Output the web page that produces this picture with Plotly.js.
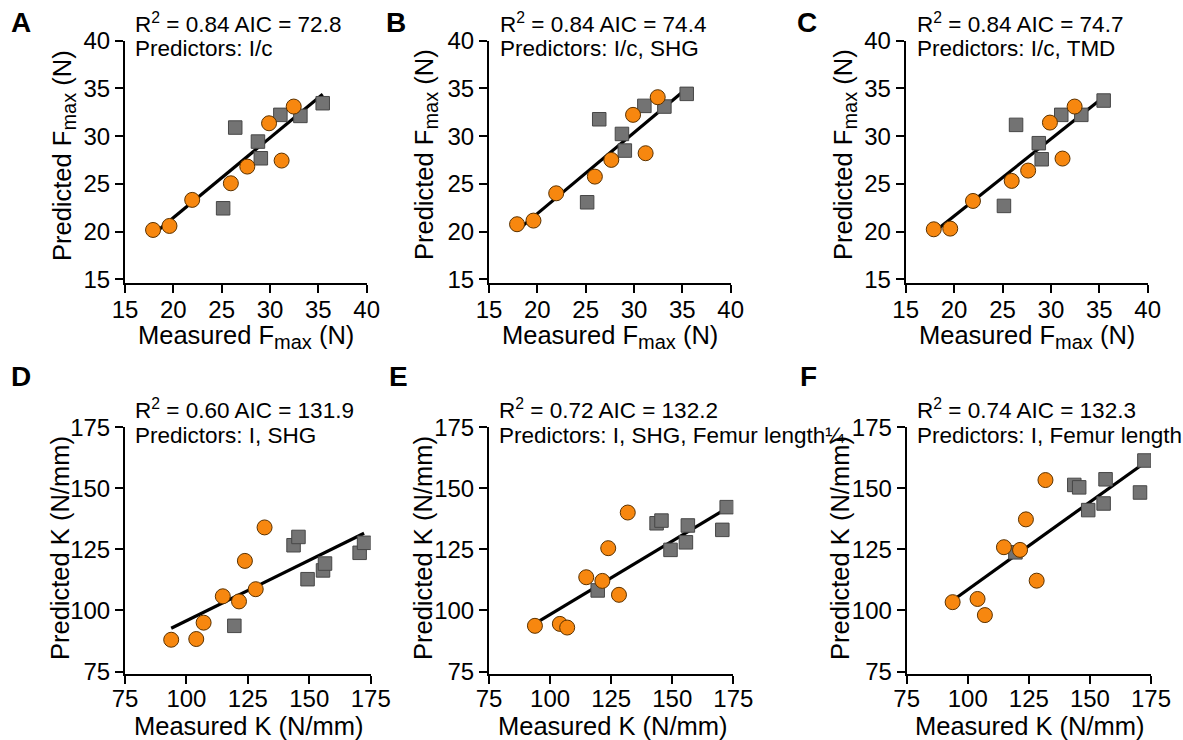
<!DOCTYPE html>
<html>
<head>
<meta charset="utf-8">
<script src="https://cdn.plot.ly/plotly-3.0.1.min.js"></script>
<style>html,body{margin:0;padding:0;background:#fff;}#chart{width:1183px;height:740px;}</style>
</head>
<body>
<div id="chart"></div>
<script>
// ---- Data ----
// Top row: Fmax (N)
const topMeasuredOrange = [17.9, 19.6, 21.95, 25.95, 27.65, 29.9, 31.2, 32.45];
const topMeasuredGray   = [25.15, 26.4, 28.75, 29.05, 31.07, 33.14, 35.45];
const predA_orange = [20.17, 20.59, 23.32, 25.06, 26.81, 31.35, 27.44, 33.10];
const predA_gray   = [22.44, 30.90, 29.43, 27.68, 32.23, 32.12, 33.45];
const predB_orange = [20.77, 21.15, 24.01, 25.76, 27.51, 32.23, 28.21, 34.08];
const predB_gray   = [23.07, 31.77, 30.23, 28.49, 33.17, 33.10, 34.43];
const predC_orange = [20.24, 20.31, 23.21, 25.31, 26.39, 31.42, 27.65, 33.10];
const predC_gray   = [22.69, 31.18, 29.26, 27.58, 32.23, 32.23, 33.73];
const fitTopX = [17.9, 35.45];
const fitA_y = [19.7, 34.4];
const fitB_y = [20.1, 35.0];
const fitC_y = [19.93, 34.1];

// Bottom row: K (N/mm)
const botMeasuredOrange = [93.8, 104.0, 107.0, 114.8, 121.4, 123.8, 128.2, 131.8];
const botMeasuredGray   = [119.5, 143.6, 145.6, 149.3, 155.6, 156.4, 170.5, 172.3];
const predD_orange = [88.0, 88.3, 95.0, 105.8, 103.7, 120.3, 108.7, 134.0];
const predD_gray   = [93.7, 126.7, 130.1, 112.8, 116.4, 119.2, 123.6, 127.7];
const predE_orange = [93.7, 94.5, 93.0, 113.6, 112.1, 125.5, 106.4, 140.1];
const predE_gray   = [108.2, 135.7, 136.8, 124.8, 127.9, 134.8, 133.0, 142.3];
const predF_orange = [103.4, 104.7, 98.1, 125.9, 124.8, 137.3, 112.2, 153.4];
const predF_gray   = [123.8, 151.4, 150.4, 141.1, 143.8, 153.7, 148.3, 161.4];
const fitBotX = [93.8, 172.3];
const fitD_y = [92.7, 131.6];
const fitE_y = [94.6, 141.8];
const fitF_y = [104.1, 160.4];

// Text
const panelLetters = ["A", "B", "C", "D", "E", "F"];
const statLines = [
  "R<sup>2</sup> = 0.84 AIC = 72.8",
  "R<sup>2</sup> = 0.84 AIC = 74.4",
  "R<sup>2</sup> = 0.84 AIC = 74.7",
  "R<sup>2</sup> = 0.60 AIC = 131.9",
  "R<sup>2</sup> = 0.72 AIC = 132.2",
  "R<sup>2</sup> = 0.74 AIC = 132.3"
];
const predictorLines = [
  "Predictors: I/c",
  "Predictors: I/c, SHG",
  "Predictors: I/c, TMD",
  "Predictors: I, SHG",
  "Predictors: I, SHG, Femur length¼",
  "Predictors: I, Femur length"
];
const SUBMAX = "<sub><span style=\"font-size:20px\">max</span></sub>";
const xTitles = ["Measured F" + SUBMAX + " (N)", "Measured K (N/mm)"];
const yTitles = ["Predicted F" + SUBMAX + " (N)", "Predicted K (N/mm)"];

// ---- Build ----
const W = 1183, H = 740;
const FONT = "Liberation Sans, Arial, Helvetica, sans-serif";
const ORANGE = "#F7870F", ORANGE_LINE = "#5b3200";
const GRAY = "#737373", GRAY_LINE = "#474747";

// panel geometry in pixels
const panels = [
  {xl:125, xr:366.7, top:40.7, bot:283,   row:0},
  {xl:489, xr:730.7, top:40.7, bot:283,   row:0},
  {xl:905.7, xr:1147.7, top:40.7, bot:283, row:0},
  {xl:125, xr:370.7, top:427.3, bot:673.5, row:1},
  {xl:489, xr:733.3, top:427.3, bot:673.5, row:1},
  {xl:906.7, xr:1151, top:427.3, bot:673.5, row:1}
];
const series = [
  [topMeasuredOrange, predA_orange, topMeasuredGray, predA_gray, fitTopX, fitA_y],
  [topMeasuredOrange, predB_orange, topMeasuredGray, predB_gray, fitTopX, fitB_y],
  [topMeasuredOrange, predC_orange, topMeasuredGray, predC_gray, fitTopX, fitC_y],
  [botMeasuredOrange, predD_orange, botMeasuredGray, predD_gray, fitBotX, fitD_y],
  [botMeasuredOrange, predE_orange, botMeasuredGray, predE_gray, fitBotX, fitE_y],
  [botMeasuredOrange, predF_orange, botMeasuredGray, predF_gray, fitBotX, fitF_y]
];
const letterPos = [[21,22.5],[396,22.5],[807.5,22.5],[20.5,376],[398,376],[808.5,376]];
const textX = [133.3, 498.3, 915, 133.3, 497.3, 915];
const textY = [[23.3,49],[23.3,49],[23.3,49],[408.5,435.5],[409,435.5],[409,435.5]];
const yTitleX = [64, 426, 845, 60, 423, 840];
const yTitleY = [155, 155, 155, 548, 548, 548];
const xTitleY = [337, 337, 337, 726, 726, 726];

const traces = [];
const layout = {
  width: W, height: H,
  margin: {l:0, r:0, t:0, b:0},
  paper_bgcolor: "#fff", plot_bgcolor: "#fff",
  showlegend: false,
  font: {family: FONT, color: "#000"},
  annotations: []
};

panels.forEach((p, i) => {
  const n = i === 0 ? "" : String(i + 1);
  const xa = "x" + n, ya = "y" + n;
  const s = series[i];
  traces.push({x: s[4], y: s[5], xaxis: xa, yaxis: ya, mode: "lines", type: "scatter",
    line: {color: "#000", width: 3.2}, hoverinfo: "skip"});
  traces.push({x: s[2], y: s[3], xaxis: xa, yaxis: ya, mode: "markers", type: "scatter",
    marker: {symbol: "square", size: 13.5, color: GRAY, line: {color: GRAY_LINE, width: 1}}});
  traces.push({x: s[0], y: s[1], xaxis: xa, yaxis: ya, mode: "markers", type: "scatter",
    marker: {symbol: "circle", size: 15, color: ORANGE, line: {color: ORANGE_LINE, width: 1}}});

  const top = p.row === 0;
  const xmin = top ? 15 : 75, xmax = top ? 40 : 175, dt = top ? 5 : 25;
  const tickPx = top ? 279.3 : 671.5;
  const pxPerUnit = (tickPx - p.top) / (xmax - xmin);
  const ymin = xmin - (p.bot - tickPx) / pxPerUnit;
  const axBase = {
    showline: true, linecolor: "#000", linewidth: 2,
    ticks: "outside", ticklen: 8, tickwidth: 2, tickcolor: "#000",
    showgrid: false, zeroline: false, fixedrange: true,
    tickfont: {family: FONT, size: 24, color: "#000"},
    tickmode: "linear", tick0: xmin, dtick: dt
  };
  layout["xaxis" + n] = Object.assign({}, axBase, {
    domain: [p.xl / W, p.xr / W], range: [xmin, xmax], anchor: ya,
    ticklabelstandoff: top ? -4 : -5
  });
  layout["yaxis" + n] = Object.assign({}, axBase, {
    domain: [1 - p.bot / H, 1 - p.top / H], range: [ymin, xmax], anchor: xa
  });

  // axis titles
  layout.annotations.push({xref: "paper", yref: "paper", x: ((p.xl + p.xr) / 2 + (top ? 0.5 : 1.5)) / W, y: 1 - xTitleY[i] / H,
    xanchor: "center", yanchor: "middle", showarrow: false, text: xTitles[p.row],
    font: {family: FONT, size: 25.5, color: "#000"}});
  layout.annotations.push({xref: "paper", yref: "paper", x: yTitleX[i] / W, y: 1 - yTitleY[i] / H,
    xanchor: "center", yanchor: "middle", showarrow: false, textangle: -90, text: yTitles[p.row],
    font: {family: FONT, size: 25.5, color: "#000"}});

  layout.annotations.push({xref: "paper", yref: "paper", x: letterPos[i][0] / W, y: 1 - letterPos[i][1] / H,
    xanchor: "center", yanchor: "middle", showarrow: false, text: "<b>" + panelLetters[i] + "</b>",
    font: {family: FONT, size: 28, color: "#000"}});
  layout.annotations.push({xref: "paper", yref: "paper", x: textX[i] / W, y: 1 - textY[i][0] / H,
    xanchor: "left", yanchor: "middle", showarrow: false, text: statLines[i],
    font: {family: FONT, size: 22.5, color: "#000"}});
  layout.annotations.push({xref: "paper", yref: "paper", x: textX[i] / W, y: 1 - textY[i][1] / H,
    xanchor: "left", yanchor: "middle", showarrow: false, text: predictorLines[i],
    font: {family: FONT, size: 22.5, color: "#000"}});
});

Plotly.newPlot("chart", traces, layout, {displayModeBar: false, staticPlot: true});
</script>
</body>
</html>
